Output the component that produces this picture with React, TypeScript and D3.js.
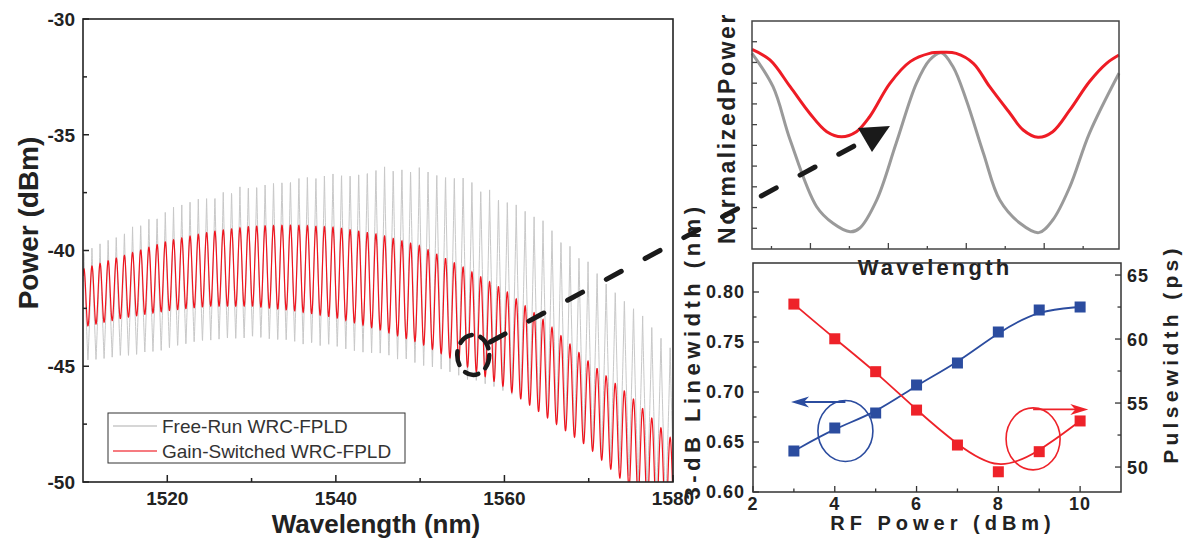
import React from "react";
import * as d3 from "d3";

// ---------- Main spectrum (envelopes) ----------
const envWl = [1510, 1515, 1520, 1525, 1530, 1535, 1540, 1545, 1550, 1555, 1560, 1565, 1570, 1575, 1580];
const freeRunPeak = [-40.0, -39.1, -38.2, -37.6, -37.1, -36.8, -36.6, -36.35, -36.4, -36.75, -37.7, -38.8, -40.5, -42.2, -44.2];
const freeRunTrough = [-44.8, -44.6, -44.3, -43.9, -43.8, -44.0, -44.2, -44.5, -44.95, -45.5, -46.1, -47.3, -48.5, -49.9, -51.5];
const gainSwPeak = [-40.8, -40.2, -39.6, -39.2, -38.95, -38.9, -39.0, -39.3, -39.8, -40.7, -41.7, -43.1, -44.8, -46.3, -48.2];
const gainSwTrough = [-43.3, -42.9, -42.6, -42.4, -42.4, -42.6, -42.9, -43.4, -44.0, -44.9, -45.9, -47.2, -48.5, -50.3, -52.0];
const modeSpacingWl = [1510, 1540, 1580];
const modeSpacingNm = [0.957, 1.016, 1.094];
const firstModeNm = 1511.07;

const mainXTicks = [1520, 1540, 1560, 1580];
const mainXMinor = [1530, 1550, 1570];
const mainYTicks = [-30, -35, -40, -45, -50];
const mainYMinor = [-32.5, -37.5, -42.5, -47.5];
const legendLabels = ["Free-Run WRC-FPLD", "Gain-Switched WRC-FPLD"];

// ---------- Top inset (normalized mode profile) ----------
const insetGrayX = [0, 0.27, 0.49, 0.83, 1.04, 1.26, 1.38, 1.6, 1.85, 2.11, 2.28, 2.43, 2.58, 2.75, 2.97, 3.18, 3.44, 3.68, 3.86, 4.08, 4.33, 4.71];
const insetGrayY = [9.44, 7.83, 5.26, 2.04, 1.24, 0.83, 1.0, 2.36, 5.1, 7.99, 9.12, 9.47, 8.79, 7.19, 4.62, 2.36, 1.24, 0.79, 1.4, 3.01, 5.58, 8.48];
const insetRedX = [0, 0.23, 0.49, 0.74, 0.96, 1.15, 1.34, 1.51, 1.77, 2.03, 2.28, 2.45, 2.62, 2.84, 3.05, 3.31, 3.48, 3.67, 3.86, 4.08, 4.33, 4.55, 4.71];
const insetRedY = [9.63, 9.12, 7.83, 6.55, 5.66, 5.42, 5.66, 6.38, 7.99, 9.04, 9.44, 9.49, 9.44, 8.96, 7.83, 6.55, 5.74, 5.39, 5.66, 6.71, 8.07, 8.96, 9.36];
const insetYTicks = [1, 2, 3, 4, 5, 6, 7, 8, 9, 10];
const insetXMajor = [0.75, 1.75, 2.75, 3.75];
const insetXMinor = [0.25, 1.25, 2.25, 3.25, 4.25];

// ---------- Bottom inset ----------
const rfPower = [3, 4, 5, 6, 7, 8, 9, 10];
const linewidth = [0.641, 0.664, 0.679, 0.707, 0.729, 0.760, 0.782, 0.785];
const pulsewidth = [62.73, 60.02, 57.45, 54.45, 51.72, 49.63, 51.2, 53.6];
const rfTicks = [2, 4, 6, 8, 10];
const rfMinor = [3, 5, 7, 9];
const lwTicks = [0.6, 0.65, 0.7, 0.75, 0.8];
const lwMinor = [0.625, 0.675, 0.725, 0.775];
const pwTicks = [50, 55, 60, 65];
const pwMinor = [52.5, 57.5, 62.5];

const FONT = "'Liberation Sans', Arial, Helvetica, sans-serif";
const GRAY = "#c8c8c8";
const RED = "#f0141e";
const BLUE = "#2b4c9f";
const RED2 = "#ee2229";

export default function App() {
  // main scales
  const x = d3.scaleLinear().domain([1510, 1580]).range([83, 673]);
  const y = d3.scaleLinear().domain([-50, -30]).range([482, 19]);
  const pG = d3.scaleLinear().domain(envWl).range(freeRunPeak);
  const tG = d3.scaleLinear().domain(envWl).range(freeRunTrough);
  const pR = d3.scaleLinear().domain(envWl).range(gainSwPeak);
  const tR = d3.scaleLinear().domain(envWl).range(gainSwTrough);
  const spacing = d3.scaleLinear().domain(modeSpacingWl).range(modeSpacingNm);

  const modes: number[] = [];
  let m = firstModeNm - 2 * spacing(firstModeNm);
  while (m < 1584) {
    modes.push(m);
    m += spacing(m);
  }
  const samples = d3.range(1510, 1580.0001, 0.02);
  const phase = (l: number) => {
    const k = Math.max(0, Math.min(modes.length - 2, d3.bisectRight(modes, l) - 1));
    const a = modes[k], b = modes[k + 1];
    const u = (l - a) / (b - a);
    const d = 2 * Math.min(u, 1 - u); // 0 at peak, 1 at trough
    return Math.max(0, Math.min(1, d));
  };
  const grayPts: [number, number][] = samples.map((l) => {
    const d = phase(l);
    const P = pG(l), T = tG(l);
    return [l, P - (P - T) * Math.pow(d, 0.85)];
  });
  const redPts: [number, number][] = samples.map((l) => {
    const d = phase(l);
    const P = pR(l), T = tR(l);
    return [l, P - (P - T) * (1 - Math.cos(Math.PI * d)) / 2];
  });
  const mainLine = d3.line<[number, number]>().x((d) => x(d[0])).y((d) => y(d[1]));

  // top inset scales
  const xi = d3.scaleLinear().domain([0, 4.71]).range([752, 1119]);
  const yi = d3.scaleLinear().domain([0, 11]).range([249, 21]);
  const insetCurve = d3
    .line<[number, number]>()
    .x((d) => xi(d[0]))
    .y((d) => yi(d[1]))
    .curve(d3.curveCatmullRom.alpha(0.5));
  const grayInset = insetCurve(insetGrayX.map((v, i) => [v, insetGrayY[i]] as [number, number]));
  const redInset = insetCurve(insetRedX.map((v, i) => [v, insetRedY[i]] as [number, number]));

  // bottom inset scales
  const xb = d3.scaleLinear().domain([2, 11]).range([753, 1121]);
  const yL = d3.scaleLinear().domain([0.6, 0.829]).range([492, 263]);
  const yR = d3.scaleLinear().domain([48.05, 65.94]).range([492, 263]);
  const lwPath = d3
    .line<number>()
    .x((_, i) => xb(rfPower[i]))
    .y((d) => yL(d))
    .curve(d3.curveBasis)(linewidth);
  const pwPath = d3
    .line<number>()
    .x((_, i) => xb(rfPower[i]))
    .y((d) => yR(d))
    .curve(d3.curveBasis)(pulsewidth);

  // annotation anchors
  const ann0 = [x(1558.3), y(-43.95)];
  const ann1 = [xi(1.36), yi(5.07)];
  const circC = [x(1556.3), y(-44.51)];
  const tri = [
    [xi(1.36), yi(5.84)],
    [xi(1.77), yi(5.93)],
    [xi(1.54), yi(4.68)],
  ];

  const fmt2 = d3.format(".2f");
  const sq = 11;

  return (
    <svg
      width={1189}
      height={538}
      style={{ position: "absolute", left: 0, top: 0, background: "#fff" }}
      fontFamily={FONT}
    >
      <defs>
        <clipPath id="mainClip">
          <rect x={x(1510)} y={y(-30)} width={x(1580) - x(1510)} height={y(-50) - y(-30)} />
        </clipPath>
      </defs>

      {/* ===== MAIN PLOT ===== */}
      <g clipPath="url(#mainClip)">
        <path d={mainLine(grayPts) || ""} fill="none" stroke={GRAY} strokeWidth={1} />
        <path d={mainLine(redPts) || ""} fill="none" stroke={RED} strokeWidth={1.2} />
      </g>
      <rect
        x={x(1510)}
        y={y(-30)}
        width={x(1580) - x(1510)}
        height={y(-50) - y(-30)}
        fill="none"
        stroke="#222"
        strokeWidth={1.6}
      />
      {mainYTicks.map((t) => (
        <g key={"my" + t}>
          <line x1={x(1510)} x2={x(1510) + 6} y1={y(t)} y2={y(t)} stroke="#222" strokeWidth={1.5} />
          <text x={75} y={y(t)} dy="0.36em" textAnchor="end" fontSize={19} fontWeight={700} fill="#222">
            {t}
          </text>
        </g>
      ))}
      {mainYMinor.map((t) => (
        <line key={"mym" + t} x1={x(1510)} x2={x(1510) + 4} y1={y(t)} y2={y(t)} stroke="#222" strokeWidth={1.5} />
      ))}
      {mainXTicks.map((t) => (
        <g key={"mx" + t}>
          <line x1={x(t)} x2={x(t)} y1={y(-50)} y2={y(-50) - 7} stroke="#222" strokeWidth={1.5} />
          <text x={x(t)} y={505} textAnchor="middle" fontSize={19} fontWeight={700} fill="#222">
            {t}
          </text>
        </g>
      ))}
      {mainXMinor.map((t) => (
        <line key={"mxm" + t} x1={x(t)} x2={x(t)} y1={y(-50)} y2={y(-50) - 4} stroke="#222" strokeWidth={1.5} />
      ))}
      <text x={376} y={533} textAnchor="middle" fontSize={26} fontWeight={700} fill="#222">
        Wavelength (nm)
      </text>
      <text
        transform="translate(38,223) rotate(-90)"
        textAnchor="middle"
        fontSize={28}
        fontWeight={700}
        fill="#222"
      >
        Power (dBm)
      </text>

      {/* legend */}
      <rect x={108} y={413} width={297} height={50} fill="#fff" stroke="#333" strokeWidth={1} />
      <line x1={113} x2={157} y1={426} y2={426} stroke={GRAY} strokeWidth={1.5} />
      <line x1={113} x2={157} y1={451} y2={451} stroke={RED} strokeWidth={1.5} opacity={0.75} />
      <text x={162} y={433} fontSize={19} fill="#333">
        {legendLabels[0]}
      </text>
      <text x={162} y={458} fontSize={19} fill="#333">
        {legendLabels[1]}
      </text>

      {/* ===== TOP INSET ===== */}
      <path d={grayInset || ""} fill="none" stroke="#9a9a9a" strokeWidth={3} />
      <path d={redInset || ""} fill="none" stroke="#ee1c25" strokeWidth={3} />
      <rect x={752} y={21} width={367} height={228} fill="none" stroke="#444" strokeWidth={1.5} />
      {insetYTicks.map((t) => (
        <line key={"iy" + t} x1={752} x2={757} y1={yi(t)} y2={yi(t)} stroke="#444" strokeWidth={1.3} />
      ))}
      {insetXMajor.map((t) => (
        <line key={"ixM" + t} x1={xi(t)} x2={xi(t)} y1={249} y2={243} stroke="#444" strokeWidth={1.3} />
      ))}
      {insetXMinor.map((t) => (
        <line key={"ixm" + t} x1={xi(t)} x2={xi(t)} y1={249} y2={246} stroke="#444" strokeWidth={1.3} />
      ))}
      <text
        x={935}
        y={275}
        textAnchor="middle"
        fontSize={22}
        fontWeight={700}
        letterSpacing={3.2}
        fill="#222"
      >
        Wavelength
      </text>
      <text
        transform="translate(735,128) rotate(-90)"
        textAnchor="middle"
        fontSize={23}
        fontWeight={700}
        letterSpacing={2.6}
        wordSpacing={-9}
        fill="#222"
      >
        Normalized Power
      </text>

      {/* ===== BOTTOM INSET ===== */}
      <rect x={753} y={263} width={368} height={229} fill="none" stroke="#333" strokeWidth={1.5} />
      {lwTicks.map((t) => (
        <g key={"lw" + t}>
          <line x1={753} x2={759} y1={yL(t)} y2={yL(t)} stroke="#333" strokeWidth={1.3} />
          <text x={745} y={yL(t)} dy="0.36em" textAnchor="end" fontSize={18} fontWeight={700} letterSpacing={1} fill="#222">
            {fmt2(t)}
          </text>
        </g>
      ))}
      {lwMinor.map((t) => (
        <line key={"lwm" + t} x1={753} x2={756.5} y1={yL(t)} y2={yL(t)} stroke="#333" strokeWidth={1.3} />
      ))}
      {pwTicks.map((t) => (
        <g key={"pw" + t}>
          <line x1={1121} x2={1115} y1={yR(t)} y2={yR(t)} stroke="#333" strokeWidth={1.3} />
          <text x={1127} y={yR(t)} dy="0.36em" textAnchor="start" fontSize={18} fontWeight={700} letterSpacing={1} fill="#222">
            {t}
          </text>
        </g>
      ))}
      {pwMinor.map((t) => (
        <line key={"pwm" + t} x1={1121} x2={1117.5} y1={yR(t)} y2={yR(t)} stroke="#333" strokeWidth={1.3} />
      ))}
      {rfTicks.map((t) => (
        <g key={"rf" + t}>
          <line x1={xb(t)} x2={xb(t)} y1={492} y2={486} stroke="#333" strokeWidth={1.3} />
          <text x={xb(t)} y={510} textAnchor="middle" fontSize={18} fontWeight={700} letterSpacing={1} fill="#222">
            {t}
          </text>
        </g>
      ))}
      {rfMinor.map((t) => (
        <line key={"rfm" + t} x1={xb(t)} x2={xb(t)} y1={492} y2={488.5} stroke="#333" strokeWidth={1.3} />
      ))}
      <path d={lwPath || ""} fill="none" stroke={BLUE} strokeWidth={1.8} />
      <path d={pwPath || ""} fill="none" stroke={RED2} strokeWidth={1.8} />
      {rfPower.map((p, i) => (
        <rect key={"bm" + p} x={xb(p) - sq / 2} y={yL(linewidth[i]) - sq / 2} width={sq} height={sq} fill={BLUE} />
      ))}
      {rfPower.map((p, i) => (
        <rect key={"rm" + p} x={xb(p) - sq / 2} y={yR(pulsewidth[i]) - sq / 2} width={sq} height={sq} fill={RED2} />
      ))}
      {/* blue annotation */}
      <ellipse cx={xb(4.26)} cy={yL(0.661)} rx={27.5} ry={30.5} fill="none" stroke={BLUE} strokeWidth={1.6} />
      <line x1={xb(4.26)} x2={xb(2.93) + 12} y1={yL(0.69)} y2={yL(0.69)} stroke={BLUE} strokeWidth={1.8} />
      <polygon
        points={`${xb(2.93)},${yL(0.69)} ${xb(2.93) + 18},${yL(0.69) - 5.5} ${xb(2.93) + 13},${yL(0.69)} ${xb(2.93) + 18},${yL(0.69) + 5.5}`}
        fill={BLUE}
      />
      {/* red annotation */}
      <ellipse cx={xb(8.85)} cy={yR(52.2)} rx={27} ry={31} fill="none" stroke={RED2} strokeWidth={1.6} />
      <line x1={xb(8.85)} x2={xb(10.2) - 12} y1={yR(54.5)} y2={yR(54.5)} stroke={RED2} strokeWidth={1.8} />
      <polygon
        points={`${xb(10.2)},${yR(54.5)} ${xb(10.2) - 18},${yR(54.5) - 5.5} ${xb(10.2) - 13},${yR(54.5)} ${xb(10.2) - 18},${yR(54.5) + 5.5}`}
        fill={RED2}
      />
      <text x={943} y={530} textAnchor="middle" fontSize={20} fontWeight={700} letterSpacing={5} fill="#222">
        RF Power (dBm)
      </text>
      <text
        transform="translate(700,351) rotate(-90)"
        textAnchor="middle"
        fontSize={22}
        fontWeight={700}
        letterSpacing={4.5}
        fill="#222"
      >
        3-dB Linewidth (nm)
      </text>
      <text
        transform="translate(1178,354) rotate(-90)"
        textAnchor="middle"
        fontSize={21}
        fontWeight={700}
        letterSpacing={4.3}
        fill="#222"
      >
        Pulsewidth (ps)
      </text>

      {/* ===== Dashed zoom annotation ===== */}
      <ellipse
        cx={circC[0]}
        cy={circC[1]}
        rx={16}
        ry={20}
        fill="none"
        stroke="#1a1a1a"
        strokeWidth={4.5}
        strokeDasharray="14 9"
        strokeLinecap="round"
      />
      <line
        x1={ann0[0]}
        y1={ann0[1]}
        x2={ann1[0]}
        y2={ann1[1]}
        stroke="#1a1a1a"
        strokeWidth={5}
        strokeDasharray="17 27"
        strokeLinecap="round"
      />
      <polygon points={tri.map((p) => p.join(",")).join(" ")} fill="#1a1a1a" />
    </svg>
  );
}
